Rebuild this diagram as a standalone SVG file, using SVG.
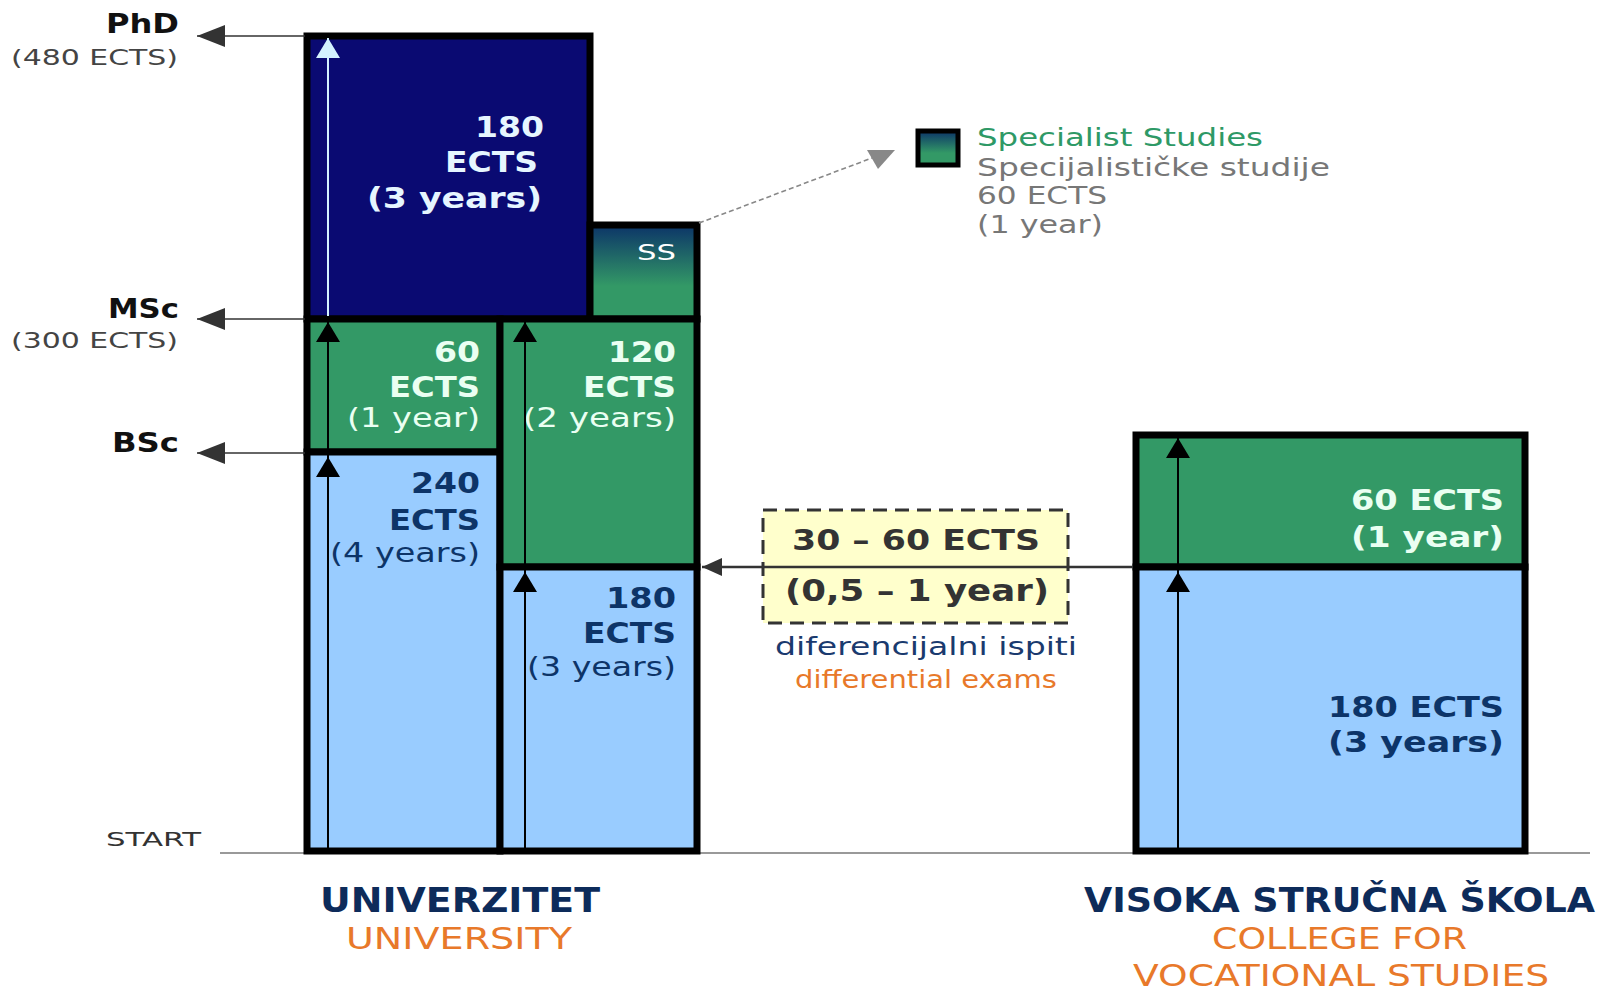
<svg xmlns="http://www.w3.org/2000/svg" width="1603" height="990" viewBox="0 0 1603 990">
<style>
text{font-family:"DejaVu Sans","Liberation Sans",sans-serif}
.b{font-weight:bold}
.box{stroke:#000;stroke-width:7}
.navy{fill:#0a0a72}
.green{fill:#339966}
.blue{fill:#99ccff}
.tw{fill:#eafff2}
.tn{fill:#0d3468}
.tp{fill:#e6f6ff}
.lvl{stroke:#333;stroke-width:1.6;fill:none}
.va{stroke:#000;stroke-width:2;fill:none}
.orange{fill:#e8792a}
.gray{fill:#777}
</style>
<defs>
<linearGradient id="ssg" x1="0" y1="0" x2="0" y2="1">
<stop offset="0" stop-color="#0c3468"/>
<stop offset="0.65" stop-color="#339966"/>
<stop offset="1" stop-color="#339966"/>
</linearGradient>
<marker id="ah" markerUnits="userSpaceOnUse" markerWidth="20" markerHeight="24" viewBox="0 0 20 24" refX="20" refY="12" orient="auto">
<path d="M0,0 L20,12 L0,24 z" fill="#000"/>
</marker>
<marker id="ahl" markerUnits="userSpaceOnUse" markerWidth="20" markerHeight="24" viewBox="0 0 20 24" refX="20" refY="12" orient="auto">
<path d="M0,0 L20,12 L0,24 z" fill="#d4f2ff"/>
</marker>
<marker id="ahg" markerUnits="userSpaceOnUse" markerWidth="28" markerHeight="22" viewBox="0 0 28 22" refX="28" refY="11" orient="auto">
<path d="M0,0 L28,11 L0,22 z" fill="#333"/>
</marker>
<marker id="ahh" markerUnits="userSpaceOnUse" markerWidth="20" markerHeight="18" viewBox="0 0 20 18" refX="20" refY="9" orient="auto">
<path d="M0,0 L20,9 L0,18 z" fill="#333"/>
</marker>
</defs>
<rect x="0" y="0" width="1603" height="990" fill="#fff"/>

<line x1="220" y1="853" x2="1590" y2="853" stroke="#999" stroke-width="2"/>

<g id="levels">
<text x="106" y="33" class="b" font-size="27" textLength="73" lengthAdjust="spacingAndGlyphs" fill="#111">PhD</text>
<text x="11" y="65" font-size="21" textLength="167" lengthAdjust="spacingAndGlyphs" fill="#444">(480 ECTS)</text>
<text x="108" y="318" class="b" font-size="27" textLength="71" lengthAdjust="spacingAndGlyphs" fill="#111">MSc</text>
<text x="11" y="348" font-size="21" textLength="167" lengthAdjust="spacingAndGlyphs" fill="#444">(300 ECTS)</text>
<text x="112" y="452" class="b" font-size="27" textLength="67" lengthAdjust="spacingAndGlyphs" fill="#111">BSc</text>
<text x="106" y="846" font-size="20" textLength="95" lengthAdjust="spacingAndGlyphs" fill="#333">START</text>
</g>

<g id="phd">
<rect x="307" y="36" width="283" height="283" class="box navy"/>
<text x="475" y="137" class="b tp" font-size="28" textLength="69" lengthAdjust="spacingAndGlyphs">180</text>
<text x="445" y="172" class="b tp" font-size="28" textLength="93" lengthAdjust="spacingAndGlyphs">ECTS</text>
<text x="367" y="208" class="b tp" font-size="28" textLength="175" lengthAdjust="spacingAndGlyphs">(3 years)</text>
</g>

<g id="ss">
<rect x="590" y="225" width="107" height="94" class="box" fill="url(#ssg)"/>
<text x="637" y="260" font-size="22" textLength="39" lengthAdjust="spacingAndGlyphs" fill="#fff">SS</text>
</g>

<g id="uni-msc-60">
<rect x="307" y="319" width="193" height="133" class="box green"/>
<text x="434" y="362" class="b tw" font-size="28" textLength="46" lengthAdjust="spacingAndGlyphs">60</text>
<text x="389" y="397" class="b tw" font-size="28" textLength="91" lengthAdjust="spacingAndGlyphs">ECTS</text>
<text x="347" y="427" class="tw" font-size="26" textLength="133" lengthAdjust="spacingAndGlyphs">(1 year)</text>
</g>

<g id="uni-bsc-240">
<rect x="307" y="452" width="193" height="399" class="box blue"/>
<text x="411" y="493" class="b tn" font-size="28" textLength="69" lengthAdjust="spacingAndGlyphs">240</text>
<text x="389" y="530" class="b tn" font-size="28" textLength="91" lengthAdjust="spacingAndGlyphs">ECTS</text>
<text x="330" y="562" class="tn" font-size="26" textLength="150" lengthAdjust="spacingAndGlyphs">(4 years)</text>
</g>

<g id="uni-msc-120">
<rect x="500" y="319" width="197" height="248" class="box green"/>
<text x="608" y="362" class="b tw" font-size="28" textLength="68" lengthAdjust="spacingAndGlyphs">120</text>
<text x="583" y="397" class="b tw" font-size="28" textLength="93" lengthAdjust="spacingAndGlyphs">ECTS</text>
<text x="523" y="427" class="tw" font-size="26" textLength="153" lengthAdjust="spacingAndGlyphs">(2 years)</text>
</g>

<g id="uni-bsc-180">
<rect x="500" y="567" width="197" height="284" class="box blue"/>
<text x="606" y="608" class="b tn" font-size="28" textLength="70" lengthAdjust="spacingAndGlyphs">180</text>
<text x="583" y="643" class="b tn" font-size="28" textLength="93" lengthAdjust="spacingAndGlyphs">ECTS</text>
<text x="527" y="676" class="tn" font-size="26" textLength="149" lengthAdjust="spacingAndGlyphs">(3 years)</text>
</g>

<g id="college-60">
<rect x="1136" y="435" width="389" height="132" class="box green"/>
<text x="1351" y="510" class="b tw" font-size="28" textLength="153" lengthAdjust="spacingAndGlyphs">60 ECTS</text>
<text x="1351" y="547" class="b tw" font-size="29" textLength="153" lengthAdjust="spacingAndGlyphs">(1 year)</text>
</g>

<g id="college-180">
<rect x="1136" y="567" width="389" height="284" class="box blue"/>
<text x="1328" y="717" class="b tn" font-size="28" textLength="176" lengthAdjust="spacingAndGlyphs">180 ECTS</text>
<text x="1328" y="752" class="b tn" font-size="29" textLength="176" lengthAdjust="spacingAndGlyphs">(3 years)</text>
</g>

<g id="differential">
<rect x="763" y="510" width="305" height="113" fill="#ffffcc" stroke="#333" stroke-width="3" stroke-dasharray="14 8"/>
<text x="792" y="550" class="b" font-size="28" textLength="248" lengthAdjust="spacingAndGlyphs" fill="#333">30 – 60 ECTS</text>
<text x="785" y="601" class="b" font-size="30" textLength="264" lengthAdjust="spacingAndGlyphs" fill="#333">(0,5 – 1 year)</text>
<text x="775" y="655" font-size="24" textLength="302" lengthAdjust="spacingAndGlyphs" fill="#1a3a6e">diferencijalni ispiti</text>
<text x="795" y="688" font-size="24" textLength="262" lengthAdjust="spacingAndGlyphs" class="orange">differential exams</text>
</g>

<g id="legend">
<rect x="918" y="131" width="40" height="34" fill="url(#ssg)" stroke="#000" stroke-width="5"/>
<text x="977" y="146" font-size="24" textLength="286" lengthAdjust="spacingAndGlyphs" fill="#2e9966">Specialist Studies</text>
<text x="977" y="176" font-size="24" textLength="353" lengthAdjust="spacingAndGlyphs" class="gray">Specijalističke studije</text>
<text x="977" y="204" font-size="24" textLength="130" lengthAdjust="spacingAndGlyphs" class="gray">60 ECTS</text>
<text x="977" y="233" font-size="24" textLength="126" lengthAdjust="spacingAndGlyphs" class="gray">(1 year)</text>
</g>

<g id="label-university">
<text x="320" y="912" class="b" font-size="33" textLength="280" lengthAdjust="spacingAndGlyphs" fill="#0d2b5a">UNIVERZITET</text>
<text x="346" y="949" font-size="31" textLength="226" lengthAdjust="spacingAndGlyphs" class="orange">UNIVERSITY</text>
</g>

<g id="label-college">
<text x="1084" y="912" class="b" font-size="33" textLength="511" lengthAdjust="spacingAndGlyphs" fill="#0d2b5a">VISOKA STRUČNA ŠKOLA</text>
<text x="1212" y="949" font-size="31" textLength="255" lengthAdjust="spacingAndGlyphs" class="orange">COLLEGE FOR</text>
<text x="1133" y="986" font-size="31" textLength="416" lengthAdjust="spacingAndGlyphs" class="orange">VOCATIONAL STUDIES</text>
</g>

<g id="connectors">
<line x1="305" y1="36" x2="197" y2="36" class="lvl" marker-end="url(#ahg)"/>
<line x1="305" y1="319" x2="197" y2="319" class="lvl" marker-end="url(#ahg)"/>
<line x1="305" y1="453" x2="197" y2="453" class="lvl" marker-end="url(#ahg)"/>

<line x1="328" y1="851" x2="328" y2="457" class="va" marker-end="url(#ah)"/>
<line x1="328" y1="457" x2="328" y2="322" class="va" marker-end="url(#ah)"/>
<line x1="328" y1="316" x2="328" y2="38" stroke="#d4f2ff" stroke-width="2" marker-end="url(#ahl)"/>

<line x1="525" y1="851" x2="525" y2="572" class="va" marker-end="url(#ah)"/>
<line x1="525" y1="572" x2="525" y2="322" class="va" marker-end="url(#ah)"/>

<line x1="1178" y1="851" x2="1178" y2="572" class="va" marker-end="url(#ah)"/>
<line x1="1178" y1="572" x2="1178" y2="438" class="va" marker-end="url(#ah)"/>

<line x1="1133" y1="567" x2="702" y2="567" stroke="#333" stroke-width="2.5" marker-end="url(#ahh)"/>

<line x1="699" y1="223" x2="872" y2="158" stroke="#888" stroke-width="1.6" stroke-dasharray="5 3"/>
<polygon points="867,150 895,150 878,169" fill="#888"/>
</g>
</svg>
